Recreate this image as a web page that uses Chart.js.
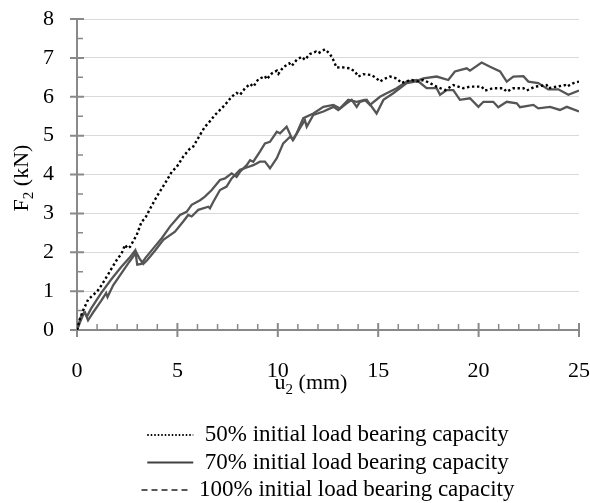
<!DOCTYPE html>
<html><head><meta charset="utf-8">
<script src="https://cdn.jsdelivr.net/npm/chart.js@4.4.1/dist/chart.umd.min.js"></script>
<style>html,body{margin:0;padding:0;background:#fff;}#wrap{width:590px;height:503px;}</style>
</head><body><div id="wrap"><canvas id="c" width="590" height="503"></canvas></div>
<script>
const seriesLabels = ['50% initial load bearing capacity', '70% initial load bearing capacity', '100% initial load bearing capacity'];
const xTicks = [0, 5, 10, 15, 20, 25];
const yTicks = [0, 1, 2, 3, 4, 5, 6, 7, 8];

const u50 = [0, 0.15, 0.31, 0.56, 0.81, 1.06, 1.23, 1.48, 1.73, 1.98, 2.22, 2.39, 2.52, 2.64, 2.97, 3.22, 3.39, 3.64, 3.97, 4.38, 4.72, 4.97, 5.29, 5.63, 5.79, 6.13, 6.37, 6.54, 6.87, 7.2, 7.37, 7.7, 7.95, 8.12, 8.37, 8.62, 8.78, 9.03, 9.36, 9.45, 9.7, 9.95, 10.03, 10.27, 10.57, 10.69, 10.94, 11.19, 11.35, 11.6, 11.9, 12.02, 12.35, 12.6, 12.76, 12.93, 13.18, 13.6, 13.84, 14.01, 14.26, 14.67, 14.92, 15.09, 15.26, 15.59, 15.92, 16.17, 16.33, 16.67, 16.92, 17.25, 17.58, 17.91, 18.33, 18.74, 19.24, 19.57, 20.15, 20.32, 20.73, 21.23, 21.4, 21.73, 22.23, 22.4, 22.81, 23.39, 23.47, 23.89, 24.3, 24.39, 24.72, 25];
const f50 = [0, 0.3, 0.51, 0.79, 0.9, 1.03, 1.16, 1.37, 1.59, 1.8, 1.97, 2.19, 2.1, 2.14, 2.44, 2.79, 2.87, 3.12, 3.43, 3.77, 4.07, 4.2, 4.46, 4.67, 4.72, 5.02, 5.23, 5.32, 5.53, 5.7, 5.79, 6.0, 6.1, 6.05, 6.22, 6.33, 6.26, 6.45, 6.53, 6.45, 6.6, 6.67, 6.59, 6.76, 6.86, 6.79, 6.95, 7.03, 6.95, 7.1, 7.16, 7.12, 7.22, 7.1, 6.95, 6.75, 6.76, 6.73, 6.65, 6.52, 6.58, 6.56, 6.47, 6.39, 6.45, 6.52, 6.47, 6.35, 6.39, 6.43, 6.39, 6.43, 6.35, 6.26, 6.17, 6.3, 6.22, 6.26, 6.26, 6.16, 6.22, 6.22, 6.13, 6.22, 6.22, 6.16, 6.26, 6.3, 6.22, 6.26, 6.3, 6.26, 6.35, 6.39];

const u70 = [0, 0.15, 0.35, 0.5, 0.7, 1.2, 1.7, 2.2, 2.6, 2.9, 3.0, 3.2, 3.4, 3.8, 4.22, 4.63, 5.13, 5.46, 5.71, 6.13, 6.37, 6.71, 7.12, 7.37, 7.7, 7.95, 8.12, 8.45, 8.62, 8.78, 9.11, 9.36, 9.61, 9.95, 10.11, 10.44, 10.74, 10.94, 11.27, 11.77, 12.27, 12.77, 13.1, 13.51, 13.93, 14.34, 14.59, 15.09, 15.42, 15.92, 16.42, 16.92, 17.41, 17.91, 18.08, 18.41, 18.74, 19.07, 19.57, 19.99, 20.24, 20.73, 20.98, 21.4, 21.9, 22.06, 22.73, 22.97, 23.56, 24.05, 24.39, 25];
const f70 = [0, 0.2, 0.45, 0.35, 0.55, 0.95, 1.3, 1.62, 1.85, 2.05, 1.68, 1.7, 1.85, 2.1, 2.36, 2.66, 2.96, 3.04, 3.22, 3.34, 3.43, 3.6, 3.86, 3.9, 4.03, 3.94, 4.07, 4.24, 4.37, 4.33, 4.59, 4.8, 4.84, 5.1, 5.06, 5.23, 4.89, 5.06, 5.45, 5.57, 5.74, 5.79, 5.7, 5.92, 5.87, 5.92, 5.79, 6.0, 6.09, 6.22, 6.39, 6.43, 6.22, 6.22, 6.05, 6.17, 6.17, 5.92, 5.96, 5.74, 5.87, 5.87, 5.73, 5.87, 5.83, 5.73, 5.79, 5.7, 5.74, 5.66, 5.74, 5.62];

const u100 = [0, 0.2, 0.4, 0.55, 0.8, 1.2, 1.45, 1.52, 1.8, 2.2, 2.6, 2.95, 3.1, 3.3, 3.5, 3.9, 4.3, 4.88, 5.29, 5.54, 5.71, 6.04, 6.54, 6.62, 6.79, 7.12, 7.45, 7.7, 8.12, 8.45, 8.78, 9.11, 9.36, 9.61, 9.95, 10.27, 10.61, 10.77, 11.1, 11.35, 11.44, 11.77, 12.27, 12.77, 13.01, 13.43, 13.68, 13.93, 14.09, 14.43, 14.92, 15.26, 15.75, 16.42, 16.83, 17.25, 17.91, 18.49, 18.82, 19.41, 19.57, 20.15, 20.57, 21.07, 21.4, 21.73, 22.23, 22.48, 22.97, 23.47, 23.97, 24.47, 25];
const f100 = [0, 0.35, 0.45, 0.25, 0.45, 0.75, 0.95, 0.85, 1.15, 1.45, 1.75, 2.0, 1.85, 1.7, 1.8, 2.05, 2.32, 2.53, 2.79, 2.96, 2.92, 3.09, 3.17, 3.13, 3.3, 3.6, 3.69, 3.9, 4.12, 4.18, 4.24, 4.33, 4.33, 4.16, 4.42, 4.8, 4.97, 4.89, 5.19, 5.4, 5.23, 5.53, 5.62, 5.74, 5.66, 5.83, 5.92, 5.74, 5.87, 5.92, 5.57, 5.92, 6.09, 6.35, 6.39, 6.47, 6.52, 6.43, 6.65, 6.73, 6.67, 6.88, 6.77, 6.65, 6.39, 6.52, 6.53, 6.39, 6.35, 6.19, 6.19, 6.05, 6.16];

const toXY = (us, fs) => us.map((u, i) => ({x: u, y: fs[i]}));

const FONT = "'Liberation Serif', 'Times New Roman', serif";
const AXIS = '#898989';
const legendDash = [[1.5, 2], [], [6, 4]];
const legendColor = ['#000000', '#404040', '#595959'];

const axesPlugin = {
  id: 'axesPlugin',
  beforeDatasetsDraw(chart) {
    const {ctx, scales: {x, y}} = chart;
    const x0 = x.getPixelForValue(xTicks[0]);
    const x1 = x.getPixelForValue(xTicks[xTicks.length - 1]);
    const y0 = y.getPixelForValue(yTicks[0]);
    const y1 = y.getPixelForValue(yTicks[yTicks.length - 1]);
    ctx.save();
    ctx.strokeStyle = AXIS;
    ctx.lineWidth = 2;
    ctx.beginPath();
    ctx.moveTo(x0, y1); ctx.lineTo(x0, y0);
    ctx.moveTo(x0, y0); ctx.lineTo(x1, y0);
    ctx.stroke();
    ctx.beginPath();
    yTicks.forEach(v => { const p = y.getPixelForValue(v); ctx.moveTo(x0 - 7, p); ctx.lineTo(x0 + 7, p); });
    xTicks.forEach(v => { const p = x.getPixelForValue(v); ctx.moveTo(p, y0 - 7); ctx.lineTo(p, y0 + 7); });
    ctx.stroke();
    ctx.lineWidth = 1.5;
    ctx.beginPath();
    for (let v = yTicks[0] + 0.5; v < yTicks[yTicks.length - 1]; v += 1) {
      const p = y.getPixelForValue(v); ctx.moveTo(x0, p); ctx.lineTo(x0 + 6, p);
    }
    for (let v = xTicks[0] + 1; v < xTicks[xTicks.length - 1]; v += 1) {
      if (v % 5 === 0) continue;
      const p = x.getPixelForValue(v); ctx.moveTo(p, y0); ctx.lineTo(p, y0 - 6);
    }
    ctx.stroke();
    ctx.restore();
  },
  afterDraw(chart) {
    const {ctx} = chart;
    const drawSub = (main, sub, rest, cx, cy) => {
      ctx.font = '22px ' + FONT;
      const w1 = ctx.measureText(main).width;
      const w3 = ctx.measureText(rest).width;
      ctx.font = '15px ' + FONT;
      const w2 = ctx.measureText(sub).width;
      const total = w1 + w2 + w3;
      let sx = cx - total / 2;
      ctx.fillStyle = '#000';
      ctx.textBaseline = 'alphabetic';
      ctx.textAlign = 'left';
      ctx.font = '22px ' + FONT;
      ctx.fillText(main, sx, cy);
      ctx.font = '15px ' + FONT;
      ctx.fillText(sub, sx + w1, cy + 5);
      ctx.font = '22px ' + FONT;
      ctx.fillText(rest, sx + w1 + w2, cy);
    };
    ctx.save();
    drawSub('u', '2', ' (mm)', 311, 389);
    ctx.restore();
    ctx.save();
    ctx.translate(28, 178);
    ctx.rotate(-Math.PI / 2);
    drawSub('F', '2', ' (kN)', 0, 0);
    ctx.restore();
  }
};

new Chart(document.getElementById('c'), {
  type: 'scatter',
  data: {
    datasets: [
      {label: seriesLabels[0], data: toXY(u50, f50), showLine: true, borderColor: '#000000', borderWidth: 2.4, borderDash: [2.4, 2.6], pointRadius: 0, tension: 0, fill: false},
      {label: seriesLabels[1], data: toXY(u70, f70), showLine: true, borderColor: '#555555', borderWidth: 2.3, pointRadius: 0, tension: 0, fill: false},
      {label: seriesLabels[2], data: toXY(u100, f100), showLine: true, borderColor: '#555555', borderWidth: 2.3, pointRadius: 0, tension: 0, fill: false}
    ]
  },
  options: {
    responsive: false,
    animation: false,
    layout: {padding: {left: 0, right: 11, top: 19, bottom: 0}},
    scales: {
      x: {
        type: 'linear', min: 0, max: 25,
        afterBuildTicks: s => { s.ticks = xTicks.map(v => ({value: v})); },
        afterFit: s => { s.height = 89; s.paddingLeft = 0; s.paddingRight = 0; },
        grid: {display: false, drawTicks: false},
        border: {display: false},
        ticks: {padding: 28, color: '#000', font: {family: FONT, size: 22}}
      },
      y: {
        type: 'linear', min: 0, max: 8,
        afterBuildTicks: s => { s.ticks = yTicks.map(v => ({value: v})); },
        afterFit: s => { s.width = 77; s.paddingTop = 0; s.paddingBottom = 0; },
        grid: {color: '#d9d9d9', lineWidth: 1, drawTicks: false},
        border: {display: false},
        ticks: {padding: 23, color: '#000', font: {family: FONT, size: 22}}
      }
    },
    plugins: {
      tooltip: {enabled: false},
      legend: {
        position: 'bottom',
        fullSize: false,
        maxHeight: 84,
        labels: {
          font: {family: FONT, size: 23},
          color: '#000',
          padding: 4.5,
          usePointStyle: true,
          pointStyle: 'line',
          pointStyleWidth: 46,
          generateLabels: chart => chart.data.datasets.map((ds, i) => ({
            text: ds.label, datasetIndex: i, hidden: false,
            strokeStyle: legendColor[i], fillStyle: legendColor[i],
            lineWidth: 2, lineDash: legendDash[i], pointStyle: 'line'
          }))
        }
      }
    }
  },
  plugins: [axesPlugin]
});
</script></body></html>
